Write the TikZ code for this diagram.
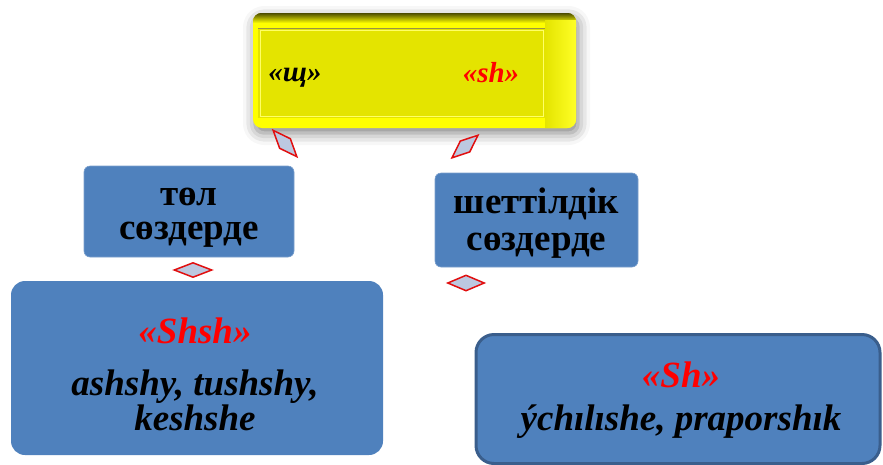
\documentclass[tikz,border=0pt]{standalone}
\usepackage{fontspec}
\setmainfont{Liberation Serif}
\usetikzlibrary{shapes.geometric,shadows.blur}

\definecolor{boxblue}{RGB}{79,129,189}
\definecolor{rimblue}{RGB}{58,94,140}
\definecolor{slab}{RGB}{255,255,0}
\definecolor{slabface}{RGB}{228,228,0}
\definecolor{gemfill}{RGB}{188,200,224}
\definecolor{gemred}{RGB}{225,15,15}
\definecolor{wordred}{RGB}{255,0,0}

\tikzset{
  wordbox/.style={rectangle, rounded corners=6pt, fill=boxblue, draw=boxblue!75!white,
    line width=0.6pt},
  examplebox/.style={rectangle, rounded corners=14pt, fill=boxblue},
  % anchor base = baseline of the last line
  wordtext/.style={anchor=base, align=center, inner sep=0pt, font=\bfseries},
  exampletext/.style={anchor=base, align=center, inner sep=0pt, font=\bfseries\itshape},
  gem/.style={diamond, fill=gemfill, draw=gemred, line width=1.5pt, inner sep=0pt},
  letter/.style={anchor=base, inner sep=0pt, font=\bfseries\itshape\fontsize{29}{30}\selectfont}
}

\begin{document}
\begin{tikzpicture}[x=1pt,y=-1pt]
\useasboundingbox (0,0) rectangle (883,464);

% yellow slab on top
\node[rectangle, rounded corners=9pt, fill=slab, minimum width=323pt, minimum height=115pt,
  blur shadow={shadow xshift=2pt, shadow yshift=-5pt, shadow blur radius=12pt, shadow opacity=50}]
  (slab) at (414.5,70.5) {};
\begin{scope}
  \clip[rounded corners=9pt] (slab.north west) rectangle (slab.south east);
  \shade[top color=black!70!yellow, bottom color=slab] (253,13) rectangle (576,23);
  \shade[left color=slabface, right color=slab!85!white] (545,20) rectangle (576,128);
\end{scope}
\fill[slabface] (258,28) rectangle (545,118);
\draw[yellow!55!black, line width=0.5pt] (258,28) -- (545,28);
\draw[slab!60!white, line width=0.8pt] (260,30) rectangle (543,116);
\node[letter, text=black] (shcha) at (295,81) {«щ»};
\node[letter, text=wordred] (shlat) at (491,82) {«sh»};

% word boxes
\node[wordbox, minimum width=210pt, minimum height=91pt] (native) at (189,211.5) {};
\node[wordtext, font=\bfseries\fontsize{37}{34}\selectfont] (nativetext) at (189,239)
  {төл\\сөздерде};
\node[wordbox, minimum width=203pt, minimum height=94pt] (foreign) at (536.5,220) {};
\node[wordtext, font=\bfseries\fontsize{37}{37}\selectfont] (foreigntext) at (536.5,250)
  {шеттілдік\\сөздерде};

% example boxes
\node[examplebox, minimum width=372pt, minimum height=174pt] (shsh) at (197,368) {};
\node[exampletext, font=\bfseries\itshape\fontsize{37}{29}\selectfont] (shshtext) at (195,430)
  {\textcolor{wordred}{«Shsh»}\\[23pt]ashshy, tushshy,\\keshshe};
\node[examplebox, rounded corners=18pt, draw=rimblue, line width=3pt,
  minimum width=404pt, minimum height=129pt] (sh) at (678,399) {};
\node[exampletext, font=\bfseries\itshape\fontsize{37}{43}\selectfont] (shtext) at (681,430)
  {\textcolor{wordred}{«Sh»}\\ýchılıshe, praporshık};

% diamond links
\node[gem, minimum width=36pt, minimum height=15pt, rotate=-48] (gemA) at (285,143.5) {};
\node[gem, minimum width=35pt, minimum height=15pt, rotate=41] (gemB) at (465,146.5) {};
\node[gem, minimum width=38pt, minimum height=15pt] (gemC) at (193,270) {};
\node[gem, minimum width=37pt, minimum height=16pt] (gemD) at (466,283) {};
\end{tikzpicture}
\end{document}
